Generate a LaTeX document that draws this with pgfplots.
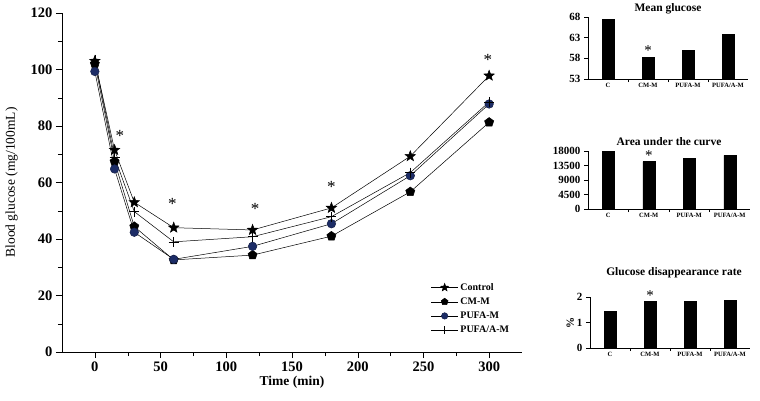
\documentclass[border=0pt]{standalone}
\usepackage{pgfplots}
\pgfplotsset{compat=1.18}
\usepackage{fontspec}
\setmainfont{Liberation Serif}
\definecolor{navy}{HTML}{1C2C66}
\newcommand{\astfont}{\fontsize{17}{17}\selectfont}
\newcommand{\astsmall}{\fontsize{15}{15}\selectfont}
\pgfdeclareplotmark{fstar}{%
  \pgfpathmoveto{\pgfpointpolar{90}{\pgfplotmarksize}}%
  \pgfpathlineto{\pgfpointpolar{126}{0.42\pgfplotmarksize}}%
  \pgfpathlineto{\pgfpointpolar{162}{\pgfplotmarksize}}%
  \pgfpathlineto{\pgfpointpolar{198}{0.42\pgfplotmarksize}}%
  \pgfpathlineto{\pgfpointpolar{234}{\pgfplotmarksize}}%
  \pgfpathlineto{\pgfpointpolar{270}{0.42\pgfplotmarksize}}%
  \pgfpathlineto{\pgfpointpolar{306}{\pgfplotmarksize}}%
  \pgfpathlineto{\pgfpointpolar{342}{0.42\pgfplotmarksize}}%
  \pgfpathlineto{\pgfpointpolar{18}{\pgfplotmarksize}}%
  \pgfpathlineto{\pgfpointpolar{54}{0.42\pgfplotmarksize}}%
  \pgfpathclose
  \pgfusepathqfillstroke
}
\begin{document}
\begin{tikzpicture}
\path[use as bounding box] (0,0) rectangle (760pt,400pt);
% ---------------- main chart
\begin{axis}[
  at={(62pt,48pt)}, anchor=south west, scale only axis,
  width=460pt, height=339pt,
  xmin=-25, xmax=325, ymin=0, ymax=120,
  axis x line*=bottom, axis y line*=left,
  xtick={0,50,...,300}, ytick={0,20,...,120},
  minor x tick num=1, minor y tick num=1,
  tick align=outside, major tick length=6pt, minor tick length=4pt,
  tick style={black, thin},
  /pgf/number format/assume math mode=true,
  ticklabel style={font=\fontsize{14.5}{15}\selectfont\bfseries},
  xlabel={\textbf{Time (min)}},
  ylabel={Blood glucose (mg/100mL)},
  label style={font=\fontsize{13.5}{14}\selectfont},
  xlabel style={yshift=2pt},
  ylabel style={yshift=6pt},
  clip=false,
  every axis plot/.append style={black, line width=0.5pt},
  legend style={draw=none, fill=none, at={(0.795,0.215)}, anchor=north west,
    font=\fontsize{10}{11}\selectfont\bfseries, row sep=2pt,
    cells={anchor=west}},
  legend image code/.code={
    \draw[#1, mark=none] (0pt,0pt) -- (27pt,0pt);
    \draw[#1, only marks, every mark/.append style={scale=0.75}] plot coordinates {(13.5pt,0pt)};
  },
]
\addplot[mark=fstar, mark options={fill=black}, mark size=5.5pt] coordinates {
 (0,103) (15,71.5) (30,53) (60,44) (120,43.2) (180,51) (240,69.3) (300,97.8)};
\addlegendentry{Control}
\addplot[mark=pentagon*, mark options={fill=black}, mark size=4.8pt] coordinates {
 (0,102) (15,67.4) (30,44.4) (60,32.6) (120,34.3) (180,41) (240,56.7) (300,81.3)};
\addlegendentry{CM-M}
\addplot[mark=*, mark options={fill=navy, draw=navy!70!black}, mark size=4.3pt] coordinates {
 (0,99.3) (15,64.8) (30,42.4) (60,32.8) (120,37.4) (180,45.4) (240,62.4) (300,87.8)};
\addlegendentry{PUFA-M}
\addplot[mark=+, mark size=5pt] coordinates {
 (0,103.5) (15,69) (30,49.7) (60,39) (120,40.8) (180,47.9) (240,63.5) (300,88.5)};
\addlegendentry{PUFA/A-M}
\node[font=\astfont] at (axis cs:19,76.5) {*};
\node[font=\astfont] at (axis cs:59,52.5) {*};
\node[font=\astfont] at (axis cs:122,50.5) {*};
\node[font=\astfont] at (axis cs:180,58.3) {*};
\node[font=\astfont] at (axis cs:299,103.5) {*};
\end{axis}
% ---------------- Mean glucose
\begin{axis}[
  at={(588pt,321pt)}, anchor=south west, scale only axis,
  width=160pt, height=62pt,
  xmin=0, xmax=4, ymin=53, ymax=68,
  axis x line*=bottom, axis y line*=left,
  ytick={53,58,63,68},
  xtick={0.5,1.5,2.5,3.5}, xticklabels={C,CM-M,PUFA-M,PUFA/A-M},
  minor xtick={1,2,3},
  tick align=outside, major tick length=4pt, minor tick length=3pt,
  x tick style={draw=none}, minor x tick style={draw=black, thin},
  y tick style={black, thin},
  /pgf/number format/assume math mode=true,
  yticklabel style={font=\fontsize{11}{11}\selectfont\bfseries},
  xticklabel style={font=\fontsize{6.5}{7}\selectfont\bfseries, yshift=3pt},
  clip=false,
]
\addplot[ybar, bar width=12pt, fill=black, draw=black] coordinates {
 (0.5,67.4) (1.5,58.3) (2.5,60) (3.5,63.8)};
\node[font=\astsmall] at (axis cs:1.5,59.8) {*};
\node[font=\fontsize{11.5}{12}\selectfont\bfseries] at (axis description cs:0.5,1) [yshift=8pt] {Mean glucose};
\end{axis}
% ---------------- Area under the curve
\begin{axis}[
  at={(588pt,191pt)}, anchor=south west, scale only axis,
  width=162pt, height=58pt,
  xmin=0, xmax=4, ymin=0, ymax=18000,
  axis x line*=bottom, axis y line*=left,
  ytick={0,4500,9000,13500,18000},
  scaled y ticks=false,
  xtick={0.5,1.5,2.5,3.5}, xticklabels={C,CM-M,PUFA-M,PUFA/A-M},
  minor xtick={1,2,3},
  tick align=outside, major tick length=4pt, minor tick length=3pt,
  x tick style={draw=none}, minor x tick style={draw=black, thin},
  y tick style={black, thin},
  /pgf/number format/assume math mode=true,
  /pgf/number format/1000 sep={},
  yticklabel style={font=\fontsize{11}{11}\selectfont\bfseries},
  xticklabel style={font=\fontsize{6.5}{7}\selectfont\bfseries, yshift=3pt},
  clip=false,
]
\addplot[ybar, bar width=12pt, fill=black, draw=black] coordinates {
 (0.5,18000) (1.5,14700) (2.5,15750) (3.5,16650)};
\node[font=\astsmall] at (axis cs:1.5,16600) {*};
\node[font=\fontsize{11.5}{12}\selectfont\bfseries] at (axis description cs:0.5,1) [yshift=9pt] {Area under the curve};
\end{axis}
% ---------------- Glucose disappearance rate
\begin{axis}[
  at={(590pt,52pt)}, anchor=south west, scale only axis,
  width=160pt, height=51pt,
  xmin=0, xmax=4, ymin=0, ymax=2,
  axis x line*=bottom, axis y line*=left,
  ytick={0,1,2},
  xtick={0.5,1.5,2.5,3.5}, xticklabels={C,CM-M,PUFA-M,PUFA/A-M},
  minor xtick={1,2,3},
  tick align=outside, major tick length=4pt, minor tick length=3pt,
  x tick style={draw=none}, minor x tick style={draw=black, thin},
  y tick style={black, thin},
  /pgf/number format/assume math mode=true,
  yticklabel style={font=\fontsize{11}{11}\selectfont\bfseries},
  xticklabel style={font=\fontsize{6.5}{7}\selectfont\bfseries, yshift=3pt},
  ylabel={\textbf{\%}},
  ylabel style={font=\fontsize{11}{12}\selectfont, yshift=-4pt},
  clip=false,
]
\addplot[ybar, bar width=12pt, fill=black, draw=black] coordinates {
 (0.5,1.44) (1.5,1.83) (2.5,1.83) (3.5,1.87)};
\node[font=\astsmall] at (axis cs:1.5,2.05) {*};
\node[font=\fontsize{11.5}{12}\selectfont\bfseries] at (axis description cs:0.5,1) [yshift=24pt, xshift=4pt] {Glucose disappearance rate};
\end{axis}
\end{tikzpicture}
\end{document}
